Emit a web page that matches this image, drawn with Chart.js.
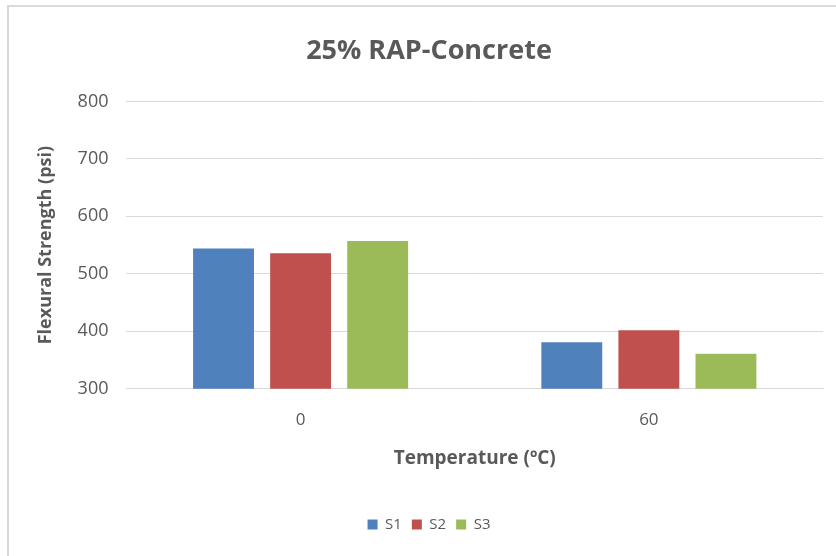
<!DOCTYPE html>
<html>
<head>
<meta charset="utf-8">
<script src="https://cdn.jsdelivr.net/npm/chart.js@4"></script>
<style>
  body { margin: 0; background: #fff; }
  #box { position: absolute; left: 7px; top: 5px; width: 840px; height: 560px; border: 2px solid #d9d9d9; box-sizing: border-box; background: #fff; }
  #wrap { position: absolute; left: 0; top: 0; width: 836px; height: 556px; }
</style>
</head>
<body>
<div id="box"></div>
<div id="wrap"><canvas id="myChart"></canvas></div>
<script>
const temps = ['0', '60'];
const s1 = [544, 381];
const s2 = [536, 402];
const s3 = [557, 361];
const yTicks = [300, 400, 500, 600, 700, 800];

const gray = '#595959';
const font = "'Open Sans', 'Noto Sans', sans-serif";

const ctx = document.getElementById('myChart');
new Chart(ctx, {
  type: 'bar',
  data: {
    labels: temps,
    datasets: [
      { label: 'S1', data: s1, backgroundColor: '#4f81bd' },
      { label: 'S2', data: s2, backgroundColor: '#c0504d' },
      { label: 'S3', data: s3, backgroundColor: '#9bbb59' }
    ]
  },
  options: {
    responsive: true,
    maintainAspectRatio: false,
    animation: false,
    categoryPercentage: 0.664,
    barPercentage: 0.79,
    layout: { padding: { left: 35, right: 13, top: 35, bottom: 14 } },
    plugins: {
      title: {
        display: true,
        text: '25% RAP-Concrete',
        color: gray,
        font: { family: font, size: 27, weight: 'bold' },
        padding: { top: 0, bottom: 34 }
      },
      legend: {
        position: 'bottom',
        labels: {
          color: gray,
          font: { family: font, size: 15 },
          boxWidth: 10,
          boxHeight: 10,
          padding: 10
        }
      },
      tooltip: { enabled: false }
    },
    scales: {
      x: {
        grid: { display: false },
        border: { color: '#d9d9d9' },
        ticks: { color: gray, font: { family: font, size: 17 }, padding: 13 },
        title: {
          display: true,
          text: 'Temperature (ºC)',
          color: gray,
          font: { family: font, size: 19, weight: 'bold' },
          padding: { top: 4, bottom: 37 }
        }
      },
      y: {
        min: 300,
        max: 800,
        afterBuildTicks: axis => { axis.ticks = yTicks.map(v => ({ value: v })); },
        grid: { color: '#d9d9d9', drawTicks: false },
        border: { display: false },
        ticks: { color: gray, font: { family: font, size: 18 }, padding: 18 },
        title: {
          display: true,
          text: 'Flexural Strength (psi)',
          color: gray,
          font: { family: font, size: 18, weight: 'bold' },
          padding: { top: 0, bottom: 3 }
        }
      }
    }
  }
});
</script>
</body>
</html>
